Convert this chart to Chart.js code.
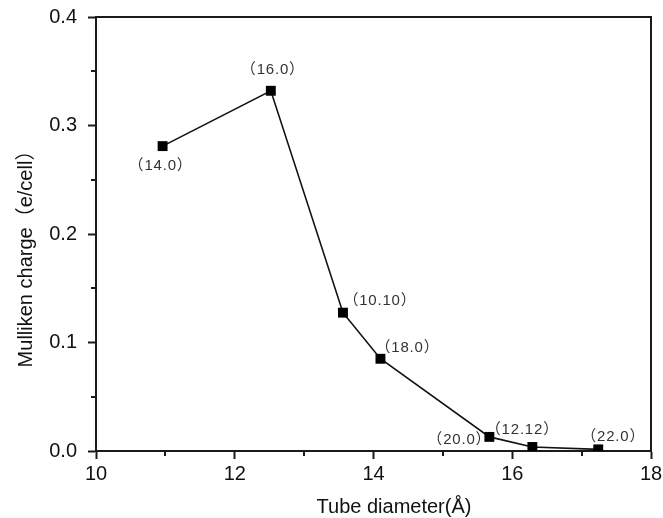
<!DOCTYPE html>
<html>
<head>
<meta charset="utf-8">
<script src="https://cdn.jsdelivr.net/npm/chart.js@4/dist/chart.umd.min.js"></script>
<style>
  html, body { margin: 0; padding: 0; background: #fff; }
  #wrap { width: 663px; height: 518px; }
</style>
</head>
<body>
<div id="wrap"><canvas id="myChart" width="663" height="518"></canvas></div>
<script>
// data
var diameters = [10.96, 12.52, 13.56, 14.10, 15.67, 16.29, 17.24];
var charges   = [0.281, 0.332, 0.1275, 0.085, 0.013, 0.0037, 0.0015];
var tubeLabels = ['（14.0）', '（16.0）', '（10.10）', '（18.0）', '（20.0）', '（12.12）', '（22.0）'];
var xMinor = [11, 13, 15, 17];
var yMinor = [0.05, 0.15, 0.25, 0.35];

// where each label sits relative to its point (px)
var labelOffsets = [[-2, 20], [2, -21], [37, -12], [27, -11], [-30, 3], [-10, -17], [15, -13]];

var fontFam = '"Liberation Sans", Arial, "Noto Sans CJK SC", sans-serif';
var axisColor = '#1a1a1a';

var decorations = {
  id: 'decorations',
  afterDraw: function(chart) {
    var ctx = chart.ctx;
    var a = chart.chartArea;
    var xs = chart.scales.x, ys = chart.scales.y;
    ctx.save();
    // box top / right
    ctx.strokeStyle = axisColor;
    ctx.lineWidth = 2;
    ctx.beginPath();
    ctx.moveTo(a.left, a.top);
    ctx.lineTo(a.right, a.top);
    ctx.lineTo(a.right, a.bottom);
    ctx.stroke();
    // minor ticks
    ctx.beginPath();
    xMinor.forEach(function(v) {
      var px = Math.round(xs.getPixelForValue(v));
      ctx.moveTo(px, a.bottom);
      ctx.lineTo(px, a.bottom + 5);
    });
    yMinor.forEach(function(v) {
      var py = Math.round(ys.getPixelForValue(v));
      ctx.moveTo(a.left, py);
      ctx.lineTo(a.left - 5, py);
    });
    ctx.stroke();

    // point labels
    ctx.fillStyle = '#333';
    ctx.font = '15px ' + fontFam;
    ctx.letterSpacing = '0.8px';
    ctx.textAlign = 'center';
    ctx.textBaseline = 'middle';
    var meta = chart.getDatasetMeta(0);
    meta.data.forEach(function(pt, i) {
      var off = labelOffsets[i];
      ctx.fillText(tubeLabels[i], pt.x + off[0], pt.y + off[1]);
    });
    ctx.letterSpacing = '0px';

    // axis titles
    ctx.fillStyle = '#111';
    ctx.font = '20px ' + fontFam;
    ctx.fillText('Tube diameter(Å)', 394, 507);
    ctx.translate(26, 254);
    ctx.rotate(-Math.PI / 2);
    ctx.fillText('Mulliken charge（e/cell）', 0, 0);
    ctx.restore();
  }
};

var ctx = document.getElementById('myChart');
new Chart(ctx, {
  type: 'line',
  data: {
    datasets: [{
      data: diameters.map(function(d, i) { return { x: d, y: charges[i] }; }),
      borderColor: '#111',
      borderWidth: 1.6,
      pointStyle: 'rect',
      pointRadius: 7,
      pointBorderWidth: 0,
      pointBackgroundColor: '#000',
      tension: 0
    }]
  },
  options: {
    responsive: false,
    animation: false,
    layout: { padding: { top: 17, right: 12, left: 0, bottom: 0 } },
    plugins: { legend: { display: false }, tooltip: { enabled: false } },
    scales: {
      x: {
        type: 'linear',
        min: 10, max: 18,
        afterFit: function(s) { s.height = 67; s.paddingLeft = 0; s.paddingRight = 0; },
        grid: { drawOnChartArea: false, tickLength: 8, tickWidth: 2, tickColor: axisColor },
        border: { color: axisColor, width: 2 },
        ticks: { stepSize: 2, padding: 3, color: '#111', font: { family: fontFam, size: 20 } }
      },
      y: {
        min: 0, max: 0.4,
        afterFit: function(s) { s.width = 96; s.paddingTop = 0; s.paddingBottom = 0; },
        grid: { drawOnChartArea: false, tickLength: 8, tickWidth: 2, tickColor: axisColor },
        border: { color: axisColor, width: 2 },
        ticks: {
          stepSize: 0.1, padding: 11, color: '#111', font: { family: fontFam, size: 20 },
          callback: function(v) { return v.toFixed(1); }
        }
      }
    }
  },
  plugins: [decorations]
});
</script>
</body>
</html>
